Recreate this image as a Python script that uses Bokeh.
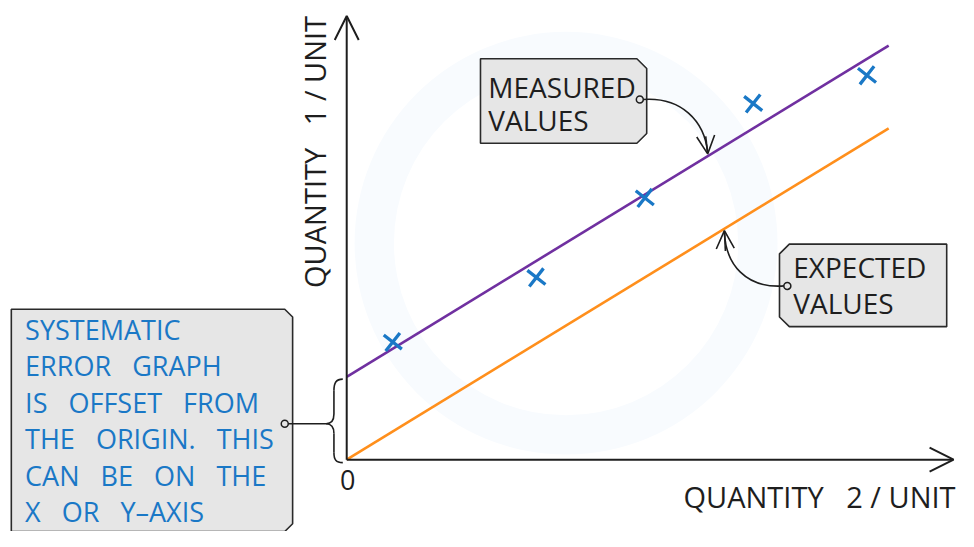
from bokeh.plotting import figure
from bokeh.models import Range1d, Label, Arrow, OpenHead
from bokeh.embed import file_html
from bokeh.resources import INLINE

# ---------------- data ----------------
line_x = [0, 10]
expected_y = [0, 10]
measured_y = [2.5, 12.5]
meas_x = [0.85, 3.5, 5.5, 7.5, 9.6]
meas_y = [3.55, 5.5, 7.9, 10.75, 11.6]

GAP = "\u00a0\u00a0 "
x_title = "QUANTITY" + GAP + "2 / UNIT"
y_title = "QUANTITY" + GAP + "1 / UNIT"
origin_label = "0"
measured_text = ["MEASURED", "VALUES"]
expected_text = ["EXPECTED", "VALUES"]
note_text = ["SYSTEMATIC",
             "ERROR" + GAP + "GRAPH",
             "IS" + GAP + "OFFSET" + GAP + "FROM",
             "THE" + GAP + "ORIGIN." + GAP + "THIS",
             "CAN" + GAP + "BE" + GAP + "ON" + GAP + "THE",
             "X" + GAP + "OR" + GAP + "Y\u2013AXIS"]

# ---------------- layout helpers (reference pixels -> data units) ----------------
W, H = 958, 531
RW, RH = 974, 547
KY = H / RH
OX, OY = 352.0, 473.0
SX, SY = 55.1, 34.13


def X(px):
    return (px - OX) / SX


def Y(py):
    return (OY - py) / SY


def BL(py, size):
    # baseline correction for label rendering
    return Y(py - 0.41 * size / KY)


FONT = "Open Sans"
INK = "#1e1e1e"
BLUE = "#1a78c6"
PURPLE = "#7030a0"
ORANGE = "#ff8f1c"
BOXFILL = "#e6e6e6"

p = figure(width=W, height=H, output_backend="svg", toolbar_location=None,
           x_range=Range1d(X(0), X(RW)), y_range=Range1d(Y(RH), Y(0)),
           x_axis_type=None, y_axis_type=None, min_border=0)
p.outline_line_color = None
p.background_fill_color = "white"
p.border_fill_color = "white"

# very faint background watermark ring
p.annulus(x=[X(575)], y=[Y(250)], inner_radius=175 / SX, outer_radius=215 / SX,
          fill_color="#f8fbfe", line_color=None)

# axes (hand-drawn style arrows)
p.add_layout(Arrow(end=OpenHead(size=24, line_width=2, line_color=INK),
                   x_start=0, y_start=0, x_end=0, y_end=Y(16),
                   line_width=2, line_color=INK))
p.add_layout(Arrow(end=OpenHead(size=24, line_width=2, line_color=INK),
                   x_start=0, y_start=0, x_end=X(969), y_end=0,
                   line_width=2, line_color=INK))

# data lines
p.line(line_x, expected_y, line_color=ORANGE, line_width=2.6)
p.line(line_x, measured_y, line_color=PURPLE, line_width=2.6)
p.scatter(meas_x, meas_y, marker="x", size=23, line_color=BLUE, line_width=3.3, angle=0.12)


# boxes
def patch_px(pts):
    p.patch([X(a) for a, b in pts], [Y(b) for a, b in pts],
            fill_color=BOXFILL, line_color="#2a2a2a", line_width=1.6)


patch_px([(488, 60), (647, 60), (657, 70), (657, 137), (647, 147), (488, 147)])
patch_px([(802, 251), (962, 251), (962, 336), (802, 336), (792, 326), (792, 261)])
patch_px([(11, 318), (289, 318), (297, 326), (297, 539), (289, 547), (11, 547)])

# texts in boxes
for t, by in zip(measured_text, [101, 135]):
    p.add_layout(Label(x=X(496), y=BL(by, 28), text=t, text_font=FONT, text_font_size="28px",
                       text_color=INK, text_baseline="alphabetic"))
for t, by in zip(expected_text, [286, 323]):
    p.add_layout(Label(x=X(806), y=BL(by, 28), text=t, text_font=FONT, text_font_size="28px",
                       text_color=INK, text_baseline="alphabetic"))
for i, t in enumerate(note_text):
    by = 350 + i * 37.6
    p.add_layout(Label(x=X(25), y=BL(by, 27), text=t, text_font=FONT, text_font_size="27px",
                       text_color=BLUE, text_baseline="alphabetic"))

# axis titles
p.add_layout(Label(x=X(971), y=BL(523, 29), text=x_title, text_font=FONT, text_font_size="29px",
                   text_color=INK, text_align="right", text_baseline="alphabetic"))
p.add_layout(Label(x=X(331 - 0.41 * 29), y=Y(156), text=y_title, text_font=FONT,
                   text_font_size="29px", text_color=INK, text_align="center",
                   text_baseline="alphabetic", angle=1.5708))
p.add_layout(Label(x=X(353), y=BL(505, 27), text=origin_label, text_font=FONT,
                   text_font_size="27px", text_color=INK, text_align="center",
                   text_baseline="alphabetic"))

# connectors
p.bezier(x0=[X(653)], y0=[Y(102)], x1=[X(719)], y1=[Y(157)],
         cx0=[X(692)], cy0=[Y(99)], cx1=[X(716)], cy1=[Y(124)],
         line_color=INK, line_width=1.6)
p.add_layout(Arrow(end=OpenHead(size=18, line_width=1.6, line_color=INK),
                   x_start=X(717), y_start=Y(140), x_end=X(719), y_end=Y(158),
                   line_width=1.6, line_color=INK))
p.bezier(x0=[X(797)], y0=[Y(294)], x1=[X(736)], y1=[Y(238)],
         cx0=[X(758)], cy0=[Y(297)], cx1=[X(737)], cy1=[Y(272)],
         line_color=INK, line_width=1.6)
p.add_layout(Arrow(end=OpenHead(size=18, line_width=1.6, line_color=INK),
                   x_start=X(737), y_start=Y(258), x_end=X(736), y_end=Y(237),
                   line_width=1.6, line_color=INK))

# brace + leader to the note
p.line([X(292), X(331)], [Y(436), Y(436)], line_color=INK, line_width=1.6)
bx0 = [348, 339, 331, 339]
by0 = [390, 426, 436, 466]
bx1 = [339, 331, 339, 348]
by1 = [402, 436, 446, 476]
cx0 = [341, 339, 336, 339]
cy0 = [390, 433, 436, 473]
cx1 = [339, 336, 339, 341]
cy1 = [394, 436, 439, 476]
p.bezier(x0=[X(v) for v in bx0], y0=[Y(v) for v in by0], x1=[X(v) for v in bx1],
         y1=[Y(v) for v in by1], cx0=[X(v) for v in cx0], cy0=[Y(v) for v in cy0],
         cx1=[X(v) for v in cx1], cy1=[Y(v) for v in cy1], line_color=INK, line_width=1.6)
p.segment(x0=[X(339), X(339)], y0=[Y(402), Y(446)], x1=[X(339), X(339)], y1=[Y(426), Y(466)],
          line_color=INK, line_width=1.6)

# small connector rings
p.scatter([X(650), X(800), X(289)], [Y(102), Y(294), Y(436)], marker="circle", size=7,
          fill_color=BOXFILL, line_color=INK, line_width=1.5)

open("out.html", "w").write(file_html(p, INLINE))
